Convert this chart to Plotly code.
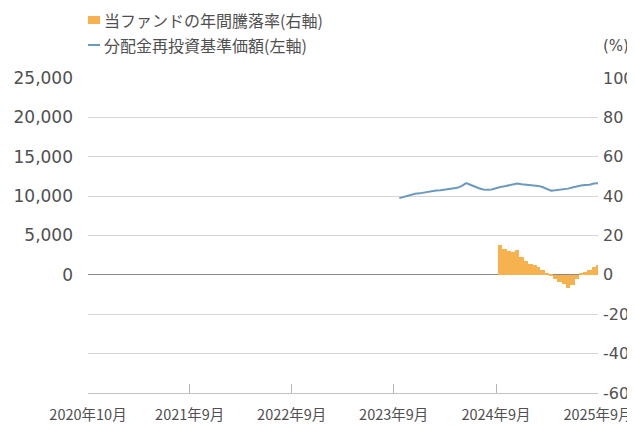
import plotly.graph_objects as go

# ---- data ----
nav_dates = [
    "2023-10-20", "2023-10-31", "2023-11-15", "2023-11-30", "2023-12-15", "2023-12-31",
    "2024-01-15", "2024-01-31", "2024-02-15", "2024-02-29", "2024-03-15", "2024-03-31",
    "2024-04-15", "2024-04-30", "2024-05-15", "2024-05-31", "2024-06-15", "2024-06-30",
    "2024-07-15", "2024-07-31", "2024-08-15", "2024-08-31", "2024-09-15", "2024-09-30",
    "2024-10-15", "2024-10-31", "2024-11-15", "2024-11-30", "2024-12-15", "2024-12-31",
    "2025-01-15", "2025-01-31", "2025-02-15", "2025-02-28", "2025-03-15", "2025-03-31",
    "2025-04-15", "2025-04-30", "2025-05-15", "2025-05-31", "2025-06-15", "2025-06-30",
    "2025-07-15", "2025-07-31", "2025-08-15", "2025-08-31", "2025-09-15", "2025-09-30",
]
nav_values = [
    9750, 9850, 10050, 10200, 10300, 10350,
    10450, 10550, 10600, 10700, 10750, 10850,
    10900, 10950, 11050, 11300, 11650, 11450,
    11200, 11000, 10850, 10800, 10850, 11050,
    11150, 11250, 11350, 11450, 11600, 11500,
    11450, 11400, 11350, 11300, 11150, 10900,
    10700, 10750, 10800, 10850, 10950, 11100,
    11250, 11350, 11400, 11450, 11600, 11650,
]

ret_dates = [
    "2024-10-15", "2024-10-31", "2024-11-15", "2024-11-30", "2024-12-15", "2024-12-31",
    "2025-01-15", "2025-01-31", "2025-02-15", "2025-02-28", "2025-03-15", "2025-03-31",
    "2025-04-15", "2025-04-30", "2025-05-15", "2025-05-31", "2025-06-15", "2025-06-30",
    "2025-07-15", "2025-07-31", "2025-08-15", "2025-08-31", "2025-09-15", "2025-09-30",
]
ret_values = [
    15, 13, 12, 11.5, 12.5, 9,
    7, 5.5, 5, 4, 2.5, 1,
    -0.5, -2, -3.5, -4.5, -6.5, -5,
    -2, 0.5, 1.5, 2.5, 4, 5,
]

x_tickvals = ["2020-10-01", "2021-09-30", "2022-09-30", "2023-09-30", "2024-09-30", "2025-09-30"]
x_ticktext = ["2020年10月", "2021年9月", "2022年9月", "2023年9月", "2024年9月", "2025年9月"]

left_tickvals = [-15000, -10000, -5000, 0, 5000, 10000, 15000, 20000, 25000]
left_ticktext = ["", "", "", "0", "5,000", "10,000", "15,000", "20,000", "25,000"]
right_tickvals = [-60, -40, -20, 0, 20, 40, 60, 80, 100]
right_ticktext = ["-60", "-40", "-20", "0", "20", "40", "60", "80", "100"]

legend_bar = "当ファンドの年間騰落率(右軸)"
legend_line = "分配金再投資基準価額(左軸)"

BAR_COLOR = "#F6B24E"
LINE_COLOR = "#6A9AC0"
TEXT_COLOR = "#505050"
FONT = "Noto Sans CJK JP"
NUM_FONT = "DejaVu Sans"

fig = go.Figure()
fig.add_trace(go.Bar(
    x=ret_dates, y=ret_values, yaxis="y2", name=legend_bar,
    marker=dict(color=BAR_COLOR, line=dict(width=0)),
    width=16 * 86400000, showlegend=False,
))
fig.add_trace(go.Scatter(
    x=nav_dates, y=nav_values, yaxis="y", mode="lines", name=legend_line,
    line=dict(color=LINE_COLOR, width=2), showlegend=False,
))

# page body has an 8px margin, so the figure is placed at (8, 8) in the window
OFF = 8
W, H = 635 - OFF, 430 - OFF
L, T = 88 - OFF, 78 - OFF
PR, PB = 598 - OFF, 393 - OFF
R, B = W - PR, H - PB
pw, ph = PR - L, PB - T


def px_x(x):  # x in window pixels -> paper
    return (x - OFF - L) / pw


def px_y(y):  # y in window pixels -> paper
    return (PB - (y - OFF)) / ph


# custom legend
fig.add_shape(type="rect", xref="paper", yref="paper",
              x0=px_x(88), x1=px_x(100), y0=px_y(24), y1=px_y(16),
              fillcolor=BAR_COLOR, line=dict(width=0))
fig.add_shape(type="line", xref="paper", yref="paper",
              x0=px_x(88), x1=px_x(100), y0=px_y(45), y1=px_y(45),
              line=dict(color=LINE_COLOR, width=2))
fig.add_annotation(xref="paper", yref="paper", x=px_x(102), y=px_y(20),
                   text=legend_bar, showarrow=False, xanchor="left", yanchor="middle",
                   font=dict(size=16, color=TEXT_COLOR, family=FONT))
fig.add_annotation(xref="paper", yref="paper", x=px_x(102), y=px_y(45),
                   text=legend_line, showarrow=False, xanchor="left", yanchor="middle",
                   font=dict(size=16, color=TEXT_COLOR, family=FONT))
fig.add_annotation(xref="paper", yref="paper", x=px_x(601), y=px_y(46),
                   text="(%)", showarrow=False, xanchor="left", yanchor="middle",
                   font=dict(size=15, color=TEXT_COLOR, family=NUM_FONT))

fig.update_layout(
    width=W, height=H,
    margin=dict(l=L, r=R, t=T, b=B, pad=0, autoexpand=False),
    paper_bgcolor="white", plot_bgcolor="white",
    font=dict(family=FONT, color=TEXT_COLOR, size=15),
    bargap=0,
    xaxis=dict(
        type="date", range=["2020-10-01", "2025-09-30"],
        tickmode="array", tickvals=x_tickvals, ticktext=x_ticktext,
        ticks="inside", ticklen=9, tickcolor="#b5b5b5",
        showgrid=False, showline=True, linecolor="#c4c4c4", linewidth=1,
        zeroline=False,
        tickfont=dict(size=14.5, color=TEXT_COLOR, family=FONT),
        ticklabelstandoff=9, automargin=False,
    ),
    yaxis=dict(
        range=[-15000, 25000], tickmode="array",
        tickvals=left_tickvals, ticktext=left_ticktext,
        showgrid=True, gridcolor="#d6d6d6", gridwidth=1,
        zeroline=True, zerolinecolor="#8a8a8a", zerolinewidth=1.2,
        showline=False, ticks="", ticklabelstandoff=14, automargin=False,
        tickfont=dict(size=17, color=TEXT_COLOR, family=NUM_FONT),
    ),
    yaxis2=dict(
        range=[-60, 100], overlaying="y", side="right", tickmode="array",
        tickvals=right_tickvals, ticktext=right_ticktext,
        showgrid=False, zeroline=False, showline=False, ticks="",
        ticklabelstandoff=4, automargin=False,
        tickfont=dict(size=16, color=TEXT_COLOR, family=NUM_FONT),
    ),
)

fig.write_html("out.html")
